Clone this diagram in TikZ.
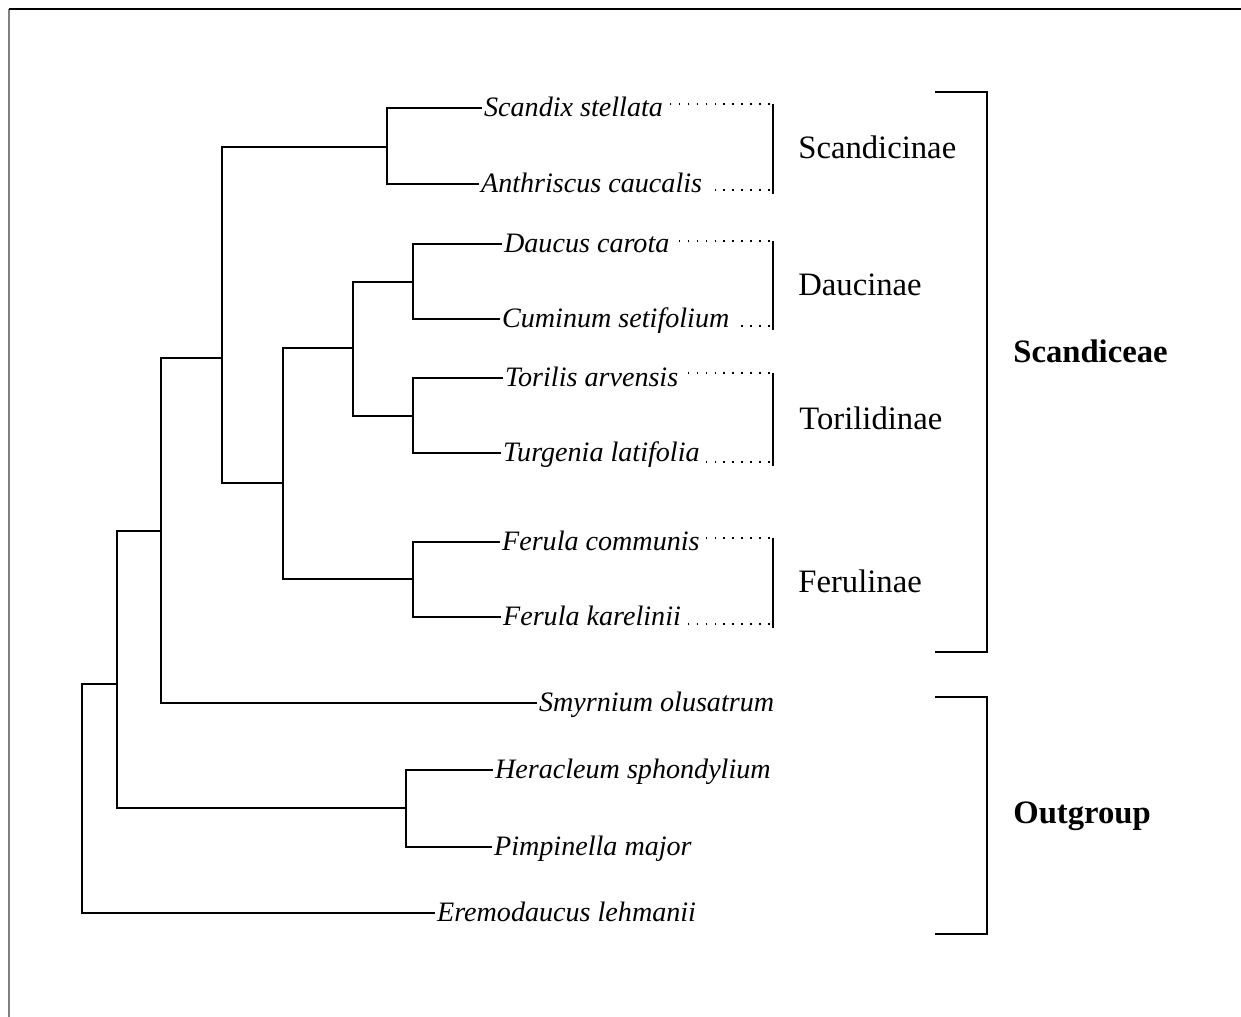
\documentclass[tikz,border=0pt]{standalone}
\usepackage{fontspec}
\setmainfont{Liberation Serif}
\begin{document}
\begin{tikzpicture}[x=0.02cm,y=-0.02cm,
	branch/.style={line width=1.1pt},
	taxon/.style={anchor=west,inner sep=1pt,text height=13pt,text depth=3pt,font=\fontsize{16pt}{19pt}\selectfont\itshape},
	clade/.style={anchor=base west,inner sep=0pt,font=\fontsize{18.6pt}{22pt}\selectfont},
	tribe/.style={anchor=base west,inner sep=0pt,font=\fontsize{18.6pt}{22pt}\selectfont\bfseries},
	leader/.style={line width=1pt,dash pattern=on 1pt off 4.1pt,shorten <=1.7pt,shorten >=2.5pt},
	bar/.style={line width=1.2pt},
	bracket/.style={line width=1.3pt}]
	\useasboundingbox (0,0) rectangle (1241,1017);
	\draw[gray,line width=1pt](9,1017)--(9,9);
	\draw[line width=1pt](9,9)--(1241,9);
	% taxa
	\node[taxon] (scandix) at (482,108) {Scandix stellata};
	\node[taxon] (anthr) at (479,184) {Anthriscus caucalis};
	\node[taxon] (daucus) at (502,244) {Daucus carota};
	\node[taxon] (cumin) at (500,319) {Cuminum setifolium};
	\node[taxon] (torilis) at (503,378) {Torilis arvensis};
	\node[taxon] (turgen) at (501,453) {Turgenia latifolia};
	\node[taxon] (ferco) at (500,542) {Ferula communis};
	\node[taxon] (ferka) at (501,617) {Ferula karelinii};
	\node[taxon] (smyrn) at (537,703) {Smyrnium olusatrum};
	\node[taxon] (heracl) at (493,770) {Heracleum sphondylium};
	\node[taxon] (pimpin) at (492,847) {Pimpinella major};
	\node[taxon] (eremo) at (435,913) {Eremodaucus lehmanii};
	% inner nodes
	\coordinate (nScn) at (387,147);
	\coordinate (nDau) at (413,282);
	\coordinate (nTor) at (413,416);
	\coordinate (nDT) at (353,348);
	\coordinate (nFer) at (413,579);
	\coordinate (nDTF) at (283,483);
	\coordinate (nScd) at (222,358);
	\coordinate (nSmy) at (161,531);
	\coordinate (nHP) at (406,808);
	\coordinate (nIng) at (117,684);
	\coordinate (nRoot) at (82,684);
	% branches
	\draw[branch](scandix.west)-|(nScn)|-(anthr.west);
	\draw[branch](daucus.west)-|(nDau)|-(cumin.west);
	\draw[branch](torilis.west)-|(nTor)|-(turgen.west);
	\draw[branch](ferco.west)-|(nFer)|-(ferka.west);
	\draw[branch](nDau)-|(nDT)|-(nTor);
	\draw[branch](nDT)-|(nDTF)|-(nFer);
	\draw[branch](nScn)-|(nScd)|-(nDTF);
	\draw[branch](nScd)-|(nSmy)|-(smyrn.west);
	\draw[branch](heracl.west)-|(nHP)|-(pimpin.west);
	\draw[branch](nSmy)-|(nIng)|-(nHP);
	\draw[branch](nIng)-|(nRoot)|-(eremo.west);
	% subtribes
	\coordinate (scnTop) at (773,104); \coordinate (scnBot) at (773,190);
	\coordinate (dauTop) at (773,241); \coordinate (dauBot) at (773,326);
	\coordinate (torTop) at (773,373); \coordinate (torBot) at (773,462);
	\coordinate (ferTop) at (773,538); \coordinate (ferBot) at (773,624);
	\draw[bar](scnTop)--([yshift=-2pt]scnBot);
	\draw[bar](dauTop)--([yshift=-2pt]dauBot);
	\draw[bar](torTop)--([yshift=-2pt]torBot);
	\draw[bar](ferTop)--([yshift=-2pt]ferBot);
	\draw[leader](scnTop)--(scandix.east |- scnTop);
	\draw[leader](scnBot)--(anthr.east |- scnBot);
	\draw[leader](dauTop)--(daucus.east |- dauTop);
	\draw[leader](dauBot)--(cumin.east |- dauBot);
	\draw[leader](torTop)--(torilis.east |- torTop);
	\draw[leader](torBot)--(turgen.east |- torBot);
	\draw[leader](ferTop)--(ferco.east |- ferTop);
	\draw[leader](ferBot)--(ferka.east |- ferBot);
	\node[clade] (lScn) at (798,158) {Scandicinae};
	\node[clade] (lDau) at (798,295) {Daucinae};
	\node[clade] (lTor) at (799,429) {Torilidinae};
	\node[clade] (lFer) at (798,592) {Ferulinae};
	% tribes
	\draw[bracket](935,92)-|(987,652)--(935,652);
	\draw[bracket](935,697)-|(987,934)--(935,934);
	\node[tribe] (lScd) at (1013,362) {Scandiceae};
	\node[tribe] (lOut) at (1013,823) {Outgroup};
\end{tikzpicture}
\end{document}
